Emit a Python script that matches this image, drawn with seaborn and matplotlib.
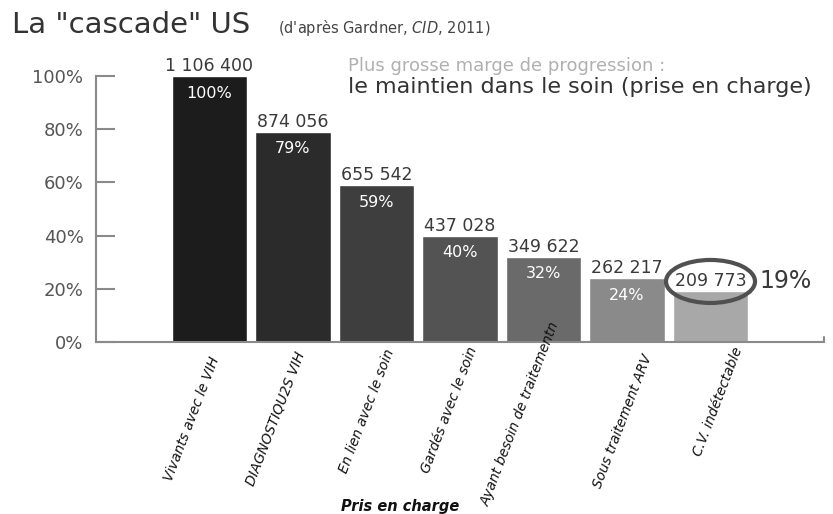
import matplotlib
matplotlib.use("Agg")
import matplotlib.pyplot as plt
import seaborn as sns
import pandas as pd
from matplotlib.patches import Ellipse

# ---- data ----
categories = ["Vivants avec le VIH", "DIAGNOSTIQU2S VIH", "En lien avec le soin",
              "Gardés avec le soin", "Ayant besoin de traitementn",
              "Sous traitement ARV", "C.V. indétectable"]
percent = [100, 79, 59, 40, 32, 24, 19]
counts = ["1 106 400", "874 056", "655 542", "437 028", "349 622", "262 217", "209 773"]
yticks = [0, 20, 40, 60, 80, 100]
ytick_labels = ["0%", "20%", "40%", "60%", "80%", "100%"]

colors = ["#1c1c1c", "#2b2b2b", "#3e3e3e", "#535353", "#6a6a6a", "#8a8a8a", "#a8a8a8"]

# layout: label end offsets (pixels) relative to bar centre / axis line
label_off = [(0, -13), (1, -8), (7, -5), (7, -3), (5, 22), (15, -10), (22, -3)]

sns.set_theme(style="white")
plt.rcParams["font.family"] = ["DejaVu Sans"]

df = pd.DataFrame({"cat": categories, "pct": percent})

fig = plt.figure(figsize=(8.33, 5.14), dpi=100)
W, H = 833, 514
ax = fig.add_axes([96 / W, 1 - 342 / H, (824 - 96) / W, (342 - 76) / H])

sns.barplot(data=df, x="cat", y="pct", hue="cat", palette=colors,
            legend=False, width=0.9, ax=ax, saturation=1)

ax.set_xlim(-1.359, 7.359)
ax.set_ylim(0, 100)
ax.set_xlabel("")
ax.set_ylabel("")
ax.set_xticks([])
ax.set_yticks(yticks)
ax.set_yticklabels(ytick_labels, fontsize=13, color="#555555")
ax.tick_params(axis="y", direction="in", length=13.5, width=1.5,
               color="#8a8a8a", pad=9, left=True)
for s in ["top", "right"]:
    ax.spines[s].set_visible(False)
for s in ["left", "bottom"]:
    ax.spines[s].set_color("#8a8a8a")
    ax.spines[s].set_linewidth(1.5)
ax.plot([1, 1], [0, 0.02], transform=ax.transAxes, color="#8a8a8a",
        lw=1.5, clip_on=False)

# value labels
for i, (p, c) in enumerate(zip(percent, counts)):
    ax.annotate(c, xy=(i, p), xytext=(0, 10), textcoords="offset pixels",
                ha="center", va="center", fontsize=12.5, color="#3a3a3a",
                annotation_clip=False)
    if i < len(percent) - 1:
        ax.annotate(f"{p}%", xy=(i, p), xytext=(0, -17), textcoords="offset pixels",
                    ha="center", va="center", fontsize=11.5, color="white")

# highlight last
last = len(percent) - 1
ax.add_patch(Ellipse((last, percent[last] + 10 / 2.66), width=89 / 83.5,
                     height=43 / 2.66, fill=False, edgecolor="#505050",
                     lw=3, clip_on=False))
ax.annotate(f"{percent[last]}%", xy=(last, percent[last]), xytext=(75, 10),
            textcoords="offset pixels", ha="center", va="center",
            fontsize=17, color="#3a3a3a", annotation_clip=False)

# category labels
for i, (lab, (dx, dy)) in enumerate(zip(categories, label_off)):
    ax.annotate(lab, xy=(i, 0), xycoords=("data", "axes fraction"),
                xytext=(dx, dy), textcoords="offset pixels",
                rotation=69, rotation_mode="anchor", ha="right", va="top",
                fontsize=9.8, style="italic", color="#111111",
                annotation_clip=False)

fig.text(400 / W, 1 - 507 / H, "Pris en charge", ha="center", va="center",
         fontsize=10.5, style="italic", fontweight="bold", color="#111111")

# titles
fig.text(12 / W, 1 - 33 / H, 'La "cascade" US', ha="left", va="baseline",
         fontsize=21, color="#333333")
fig.text(278 / W, 1 - 33 / H, "(d'après Gardner, $\\it{CID}$, 2011)",
         ha="left", va="baseline", fontsize=10.5, color="#444444")
fig.text(348 / W, 1 - 71 / H, "Plus grosse marge de progression :",
         ha="left", va="baseline", fontsize=13, color="#b0b0b0")
fig.text(348 / W, 1 - 93 / H, "le maintien dans le soin (prise en charge)",
         ha="left", va="baseline", fontsize=16, color="#333333")

fig.savefig("out.png", dpi=100, facecolor="white")
